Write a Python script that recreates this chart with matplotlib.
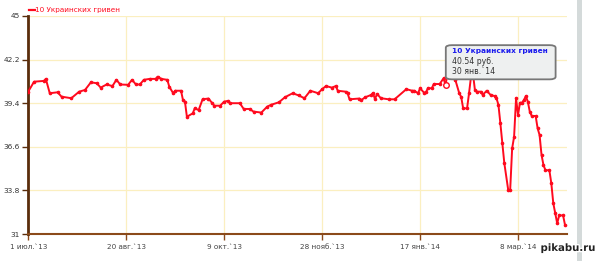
import matplotlib
matplotlib.use("Agg")
import matplotlib.pyplot as plt
import matplotlib.patheffects as pe
from matplotlib.patches import FancyBboxPatch
from matplotlib.lines import Line2D
import pandas as pd

# days since 1 Jul 2013 and rate (RUB per 10 UAH)
days = [0, 3, 8, 9, 11, 15, 17, 22, 26, 29, 32, 35, 37, 40, 43, 45, 47, 51, 53, 55,
        57, 59, 62, 65, 66, 68, 71, 72, 74, 75, 78, 79, 80, 81, 84, 85, 87, 89, 92, 94,
        95, 98, 100, 102, 103, 108, 110, 113, 115, 119, 122, 124, 128, 131, 135, 138,
        141, 144, 148, 150, 152, 155, 157, 158, 162, 163, 164, 169, 170, 172, 175, 176,
        177, 178, 180, 184, 187, 193, 196, 197, 199, 200, 202, 203, 204, 206, 207, 210,
        212, 213, 214, 217, 218, 220, 221, 222, 224, 225, 226, 227, 228, 229, 231, 232,
        234, 236, 238, 239, 240, 241, 242, 243, 245, 246, 247, 248, 249, 250, 251, 252,
        253, 254, 255, 256, 257, 259, 260, 261, 262, 263, 264, 266, 267, 268, 269, 270,
        271, 273, 274]
rates = [40.14, 40.78, 40.83, 40.96, 40.04, 40.1, 39.82, 39.72, 40.14, 40.25, 40.74,
         40.68, 40.4, 40.6, 40.5, 40.9, 40.6, 40.58, 40.9, 40.6, 40.6, 40.9, 40.96, 40.96,
         41.1, 40.96, 40.9, 40.46, 40.04, 40.2, 40.2, 39.6, 39.5, 38.53, 38.75, 39.07,
         38.96, 39.65, 39.7, 39.4, 39.24, 39.24, 39.5, 39.55, 39.4, 39.4, 39.03, 39.03,
         38.86, 38.8, 39.18, 39.3, 39.46, 39.78, 40.04, 39.9, 39.72, 40.2, 40.04, 40.3,
         40.5, 40.4, 40.5, 40.2, 40.14, 40.04, 39.65, 39.7, 39.6, 39.78, 39.93, 40.06,
         39.65, 40.0, 39.72, 39.65, 39.65, 40.3, 40.2, 40.2, 40.04, 40.36, 40.08, 40.1,
         40.36, 40.36, 40.63, 40.63, 41.0, 40.54, 41.3, 41.4, 40.9, 40.04, 39.8, 39.07,
         39.07, 40.04, 41.1, 41.3, 40.25, 40.14, 40.14, 39.93, 40.2, 39.93, 39.86, 39.72,
         39.3, 38.1, 36.83, 35.56, 33.83, 33.83, 36.5, 37.25, 39.72, 38.64, 39.43, 39.43,
         39.6, 39.86, 39.5, 38.86, 38.58, 38.58, 37.79, 37.36, 36.08, 35.43, 35.1, 35.1,
         34.26, 32.98, 32.33, 31.69, 32.2, 32.2, 31.58]

yticks = [31, 33.8, 36.6, 39.4, 42.2, 45]
xtick_days = [0, 50, 100, 150, 200, 250]
xtick_labels = ["1 июл.`13", "20 авг.`13", "9 окт.`13", "28 нояб.`13", "17 янв.`14", "8 мар.`14"]
series_name = "10 Украинских гривен"
tip_day = 213

start = pd.Timestamp("2013-07-01")
dates = start + pd.to_timedelta(days, unit="D")

fig = plt.figure(figsize=(6, 2.61), dpi=100)
ax = fig.add_axes([0.047, 0.103, 0.898, 0.836])

ax.plot(dates, rates, color="#ff0a1e", lw=1.4, marker="o", ms=1.6, zorder=3)
ax.set_xlim(start, start + pd.Timedelta(days=275))
ax.set_ylim(31, 45)

ax.set_yticks(yticks)
ax.set_yticklabels([f"{v:g}" for v in yticks], fontsize=5.3, color="#333333")
ax.set_xticks(start + pd.to_timedelta(xtick_days, unit="D"))
ax.set_xticklabels(xtick_labels, fontsize=5.2, color="#444444")
ax.tick_params(axis="y", length=4, width=1, color="#5a2d0c", pad=2)
ax.tick_params(axis="x", length=4, width=1, color="#8b4a1a", pad=3)
ax.grid(True, color="#fbefc0", lw=0.9, zorder=0)

for s in ["top", "right"]:
    ax.spines[s].set_visible(False)
ax.spines["left"].set_color("#5a2d0c")
ax.spines["left"].set_linewidth(2)
ax.spines["bottom"].set_color("#8b4a1a")
ax.spines["bottom"].set_linewidth(1.5)

# legend at top left
fig.lines.append(Line2D([0.048, 0.058], [0.963, 0.963], transform=fig.transFigure,
                        color="#ff0a1e", lw=1.6))
fig.text(0.059, 0.963, series_name, color="#ff0a1e", fontsize=5.2, va="center")

# tooltip
i = days.index(tip_day)
tip_date = dates[i]
ax.plot([tip_date], [rates[i]], marker="o", ms=4, mfc="white", mec="#ff0a1e", mew=1, zorder=4)
box = FancyBboxPatch((0.747, 0.70), 0.175, 0.123, transform=fig.transFigure,
                     boxstyle="round,pad=0.004,rounding_size=0.01",
                     fc="#eef0f0", ec="#777777", lw=1.3, zorder=5)
fig.patches.append(box)
fig.text(0.754, 0.803, series_name, color="#1a1aee", fontsize=5.3, fontweight="bold", va="center", zorder=6)
fig.text(0.754, 0.764, f"{rates[i]:.2f} руб.", color="#333333", fontsize=5.6, va="center", zorder=6)
fig.text(0.754, 0.726, "30 янв.`14", color="#333333", fontsize=5.6, va="center", zorder=6)

# scrollbar-like grey strip at the right
fig.patches.append(plt.Rectangle((0.962, 0.0), 0.008, 1.0, transform=fig.transFigure,
                                 fc="#d4dada", ec="none"))

# watermark
fig.text(0.993, 0.05, "pikabu.ru", fontsize=7.3, fontweight="bold", color="#222222",
         ha="right", va="center",
         path_effects=[pe.withStroke(linewidth=2, foreground="white")])

fig.savefig("out.png", dpi=100)
